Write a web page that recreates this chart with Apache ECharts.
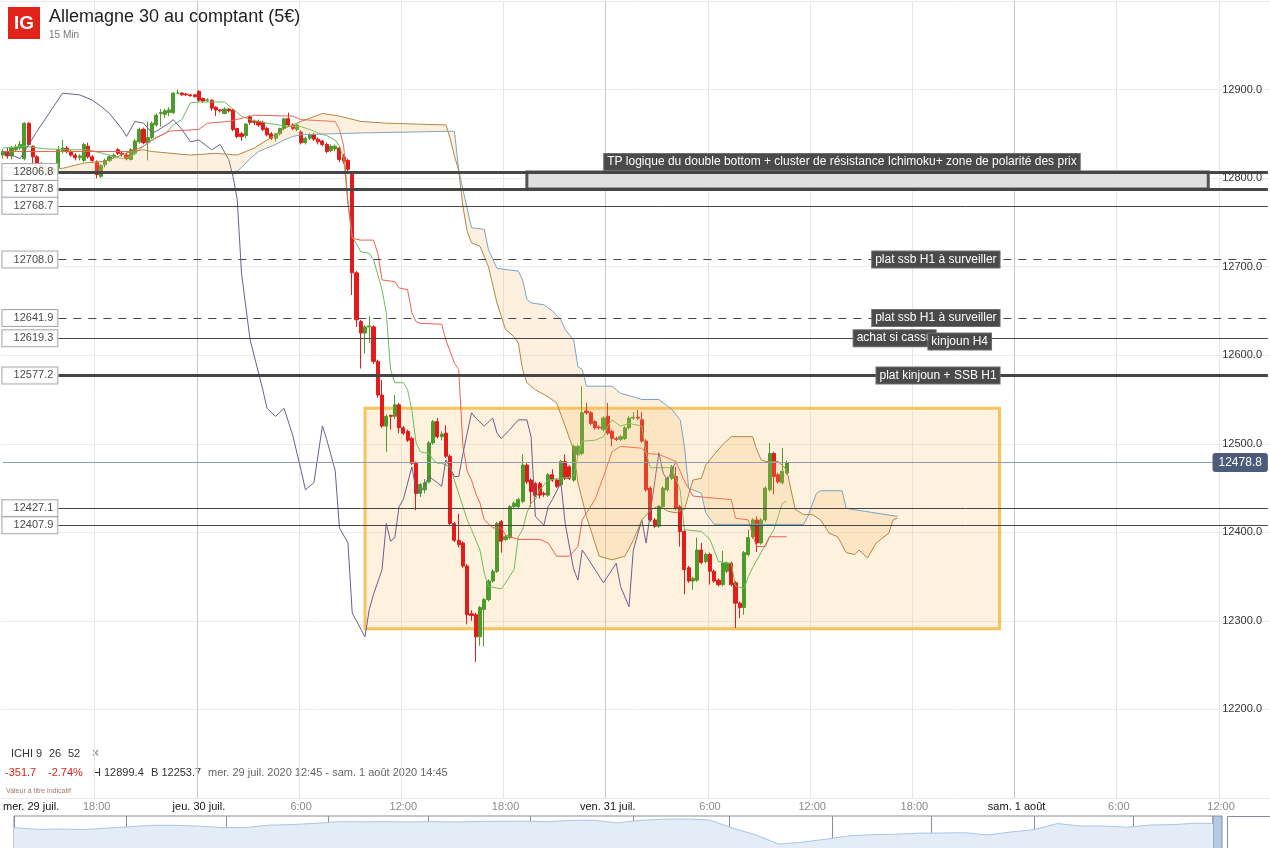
<!DOCTYPE html>
<html><head><meta charset="utf-8">
<script src="https://cdn.jsdelivr.net/npm/echarts@6.0.0/dist/echarts.min.js"></script>
<style>html,body{margin:0;padding:0;background:#fff}#chart{width:1270px;height:848px}</style>
</head><body><div id="chart"></div>
<script>
const FONT = '"Liberation Sans", Arial, sans-serif';

// ---- x categories: 15-min bars from 29 juil. 12:30 ----
const categories = [];
for (let k = 0; k < 298; k++) {
  const t = new Date(Date.UTC(2020, 6, 29, 12, 30) + k * 15 * 60000);
  categories.push(t.toISOString().slice(0, 16).replace('T', ' '));
}
const tickLabels = [
  ['2020-07-29 12:30', 'mer. 29 juil.', 'd'],
  ['2020-07-29 18:00', '18:00', 'h'],
  ['2020-07-30 00:00', 'jeu. 30 juil.', 'd'],
  ['2020-07-30 06:00', '6:00', 'h'],
  ['2020-07-30 12:00', '12:00', 'h'],
  ['2020-07-30 18:00', '18:00', 'h'],
  ['2020-07-31 00:00', 'ven. 31 juil.', 'd'],
  ['2020-07-31 06:00', '6:00', 'h'],
  ['2020-07-31 12:00', '12:00', 'h'],
  ['2020-07-31 18:00', '18:00', 'h'],
  ['2020-08-01 00:00', 'sam. 1 août', 'd'],
  ['2020-08-01 06:00', '6:00', 'h'],
  ['2020-08-01 12:00', '12:00', 'h']
];

// ---- candles [open, close, low, high] ----
const candles = [
[12826,12830,12822,12833],[12830,12825,12822,12834],[12825,12834,12821,12836],[12832,12835,12830,12838],[12834,12838,12832,12842],
[12822,12862,12820,12863],[12862,12838,12836,12863],[12836,12824,12817,12837],[12824,12815,12810,12826],[12815,12808,12804,12818],
[12808,12812,12803,12815],[12812,12806,12802,12814],[12806,12810,12803,12813],[12812,12832,12805,12836],[12830,12834,12828,12843],
[12834,12830,12828,12836],[12830,12826,12824,12832],[12826,12823,12820,12828],[12823,12825,12820,12827],[12820,12838,12818,12840],
[12836,12824,12822,12840],[12824,12820,12817,12826],[12818,12804,12800,12820],[12802,12814,12800,12816],[12815,12820,12812,12822],
[12820,12824,12818,12826],[12824,12826,12822,12828],[12832,12828,12826,12834],[12828,12827,12824,12830],[12826,12822,12820,12829],
[12821,12832,12820,12834],[12828,12842,12826,12844],[12841,12855,12839,12857],[12855,12840,12838,12857],[12840,12846,12820,12864],
[12846,12862,12844,12864],[12860,12871,12858,12873],[12873,12874,12858,12878],[12872,12876,12868,12878],[12874,12877,12870,12880],
[12874,12896,12872,12897],[12896,12896,12895,12900],[12896,12894,12893,12897],[12895,12894,12893,12896],[12894,12893,12892,12895],
[12894,12892,12891,12895],[12898,12888,12886,12899.4],[12890,12887,12885,12891],[12888,12888.5,12886,12890],[12888,12879,12876,12889],
[12880,12877,12870,12881],[12877,12876,12874,12878],[12873,12878,12872,12880],[12878,12876,12874,12879],[12877,12855,12853,12878],
[12856,12847,12845,12857],[12850,12847,12842,12852],[12848,12861,12845,12862],[12869,12863,12860,12871],[12864,12863,12860,12866],
[12864,12860,12858,12866],[12863,12855,12853,12865],[12856,12849,12847,12858],[12850,12845,12843,12852],[12845,12850,12841,12851],
[12850,12856,12848,12857],[12856,12867,12854,12868],[12867,12860,12858,12874],[12860,12856,12854,12862],[12855,12860,12853,12862],
[12852,12840,12838,12854],[12840,12845,12838,12847],[12845,12849,12843,12851],[12849,12844,12842,12851],[12844,12841,12838,12846],
[12842,12838,12836,12843],[12838,12830,12828,12840],[12831,12836,12829,12838],[12833,12836,12830,12838],[12834,12821,12818,12836],
[12824,12819,12816,12827],[12820,12810,12808,12822],[12804,12693,12668,12808],[12693,12640,12632,12695],[12638,12625,12585,12640],
[12625,12632,12602,12634],[12632,12633,12614,12644],[12632,12593,12590,12634],[12593,12555,12552,12595],[12555,12520,12518,12572],
[12520,12531,12491,12533],[12532,12531,12516,12533],[12531,12544,12528,12555],[12544,12518,12512,12546],[12518,12512,12510,12520],
[12514,12504,12502,12516],[12506,12478,12476,12508],[12478,12444,12425,12480],[12444,12454,12440,12456],[12448,12456,12444,12460],
[12457,12501,12455,12503],[12501,12525,12499,12527],[12525,12508,12506,12529],[12508,12511,12504,12514],[12512,12486,12484,12521],
[12486,12410,12408,12488],[12410,12391,12389,12412],[12391,12386,12383,12421],[12388,12362,12360,12390],[12362,12307,12296,12364],
[12308,12306,12300,12312],[12307,12282,12253.7,12309],[12282,12315,12272,12317],[12313,12324,12271,12326],[12324,12345,12322,12347],
[12345,12356,12343,12358],[12356,12410,12354,12412],[12412,12390,12377,12414],[12392,12395,12390,12397],[12394,12429,12392,12431],
[12429,12433,12427,12435],[12429,12437,12427,12439],[12435,12476,12433,12488],[12476,12457,12455,12478],[12459,12446,12429,12461],
[12455,12442,12440,12457],[12455,12442,12438,12457],[12444,12443,12440,12446],[12442,12465,12440,12467],[12465,12459,12457,12471],
[12459,12452,12450,12461],[12454,12480,12452,12482],[12480,12461,12459,12488],[12474,12461,12459,12476],[12459,12497,12457,12499],
[12488,12497,12486,12499],[12489,12535,12487,12565],[12537,12535,12533,12546],[12535,12523,12521,12537],[12525,12518,12516,12527],
[12519,12518,12516,12521],[12516,12529,12514,12531],[12531,12512,12510,12546],[12514,12506,12497,12516],[12506,12505,12503,12508],
[12505,12508,12503,12510],[12506,12518,12504,12520],[12518,12529,12516,12531],[12529,12530,12527,12536],[12530,12529,12527,12538],
[12527,12503,12501,12536],[12503,12448,12446,12505],[12450,12414,12412,12452],[12414,12407,12405,12416],[12407,12429,12405,12431],
[12429,12450,12427,12452],[12448,12461,12446,12463],[12461,12474,12459,12476],[12463,12427,12425,12474],[12429,12401,12384,12431],
[12401,12358,12330,12403],[12360,12345,12343,12362],[12345,12348,12335,12350],[12346,12380,12344,12394],[12380,12366,12364,12388],
[12367,12375,12365,12377],[12375,12356,12341,12377],[12356,12345,12343,12358],[12346,12341,12339,12348],[12341,12365,12339,12379],
[12356,12365,12354,12367],[12365,12341,12339,12367],[12343,12320,12292,12345],[12320,12315,12303,12322],[12315,12377,12307,12379],
[12375,12394,12373,12403],[12395,12414,12393,12416],[12414,12388,12378,12418],[12388,12414,12386,12416],[12414,12450,12412,12452],
[12448,12489,12446,12501],[12489,12463,12443,12491],[12465,12457,12455,12467],[12456,12469,12454,12495],[12467,12478.8,12465,12481]
];

// ---- Ichimoku lines [barIndex, value] ----
const tenkan = [[0,12834],[5,12836],[10,12833],[15,12832],[20,12832],[25,12826],[28,12822],[30,12824],[32,12832],[34,12840],[36,12846],[38,12850],[40,12860],[42,12866],[44,12885],[46,12886],[52,12886],[54,12878],[56,12870],[58,12866],[62,12862],[66,12859],[70,12858],[72,12855],[74,12851],[76,12848],[78,12843],[79,12836],[80,12822],[81,12772],[82,12734],[84,12717],[86,12715],[87,12708],[89,12674],[90,12648],[91,12584],[92,12569],[94,12569],[95,12561],[96,12538],[97,12501],[98,12491],[100,12489],[101,12482],[102,12478],[103,12478],[105,12474],[106,12459],[108,12429],[109,12414],[110,12403],[112,12380],[113,12354],[114,12339],[117,12336],[118,12343],[120,12358],[121,12395],[122,12403],[123,12422],[124,12433],[125,12437],[126,12448],[128,12459],[131,12461],[134,12463],[135,12486],[136,12503],[139,12504],[141,12508],[142,12520],[143,12527],[145,12520],[147,12523],[150,12520],[151,12490],[152,12473],[157,12473],[159,12448],[160,12403],[164,12401],[166,12392],[168,12367],[171,12365],[172,12339],[174,12337],[175,12350],[176,12360],[178,12377],[180,12395],[181,12403],[183,12433],[184,12435]];
const kijun = [[0,12830],[13,12830],[30,12830],[33,12836],[35,12843],[39,12853],[46,12855],[48,12862],[53,12864],[59,12871],[68,12870],[70,12866],[78,12864],[79,12855],[80,12836],[81,12772],[82,12732],[84,12730],[87,12730],[88,12715],[89,12685],[92,12683],[93,12676],[95,12674],[96,12648],[97,12638],[98,12636],[103,12635],[104,12617],[106,12591],[107,12584],[108,12497],[109,12469],[110,12459],[111,12444],[112,12433],[113,12414],[115,12405],[117,12405],[118,12397],[121,12392],[126,12392],[128,12388],[130,12373],[133,12373],[135,12384],[136,12414],[139,12437],[141,12463],[143,12491],[145,12497],[150,12495],[151,12489],[154,12488],[157,12482],[158,12480],[160,12458],[162,12441],[166,12439],[171,12437],[172,12416],[175,12414],[176,12397],[177,12384],[179,12384],[180,12395],[184,12395]];
const chikou = [[0,12830],[4,12822],[8,12853],[14,12896],[18,12894],[21,12888],[23,12881],[25,12873],[28,12855],[29,12847],[31,12864],[33,12862],[35,12851],[36,12853],[39,12862],[40,12866],[42,12855],[44,12841],[46,12843],[49,12832],[51,12838],[53,12821],[54,12802],[55,12776],[56,12693],[58,12618],[61,12561],[62,12540],[64,12531],[66,12540],[68,12510],[70,12470],[71,12448],[73,12456],[75,12520],[76,12505],[78,12470],[79,12405],[81,12388],[82,12309],[85,12282],[86,12313],[87,12330],[89,12358],[90,12410],[91,12390],[92,12394],[93,12429],[94,12437],[96,12474],[97,12448],[98,12444],[100,12463],[102,12456],[103,12452],[104,12482],[106,12463],[107,12463],[108,12489],[110,12535],[111,12529],[113,12520],[115,12529],[116,12512],[117,12506],[119,12516],[121,12527],[123,12527],[124,12508],[125,12418],[127,12408],[128,12429],[129,12437],[131,12456],[132,12410],[134,12358],[135,12346],[136,12380],[137,12373],[139,12358],[141,12343],[144,12365],[145,12339],[147,12316],[148,12380],[150,12414],[151,12388],[152,12422],[154,12490],[155,12467],[156,12459],[158,12480]];
const spanBlue = [[0,12806],[54,12806],[55,12808],[56,12812],[58,12822],[60,12830],[64,12838],[66,12843],[68,12847],[70,12849],[84,12851],[106,12853],[107,12809],[108,12787],[110,12744],[113,12742],[114,12719],[116,12698],[121,12695],[122,12685],[123,12663],[124,12659],[127,12657],[129,12650],[131,12640],[132,12629],[134,12617],[135,12587],[136,12584],[137,12565],[143,12565],[145,12557],[148,12553],[150,12550],[154,12550],[157,12539],[159,12527],[160,12497],[161,12450],[162,12448],[164,12444],[165,12422],[167,12409],[188,12409],[189,12418],[191,12444],[192,12447],[197,12447],[198,12427],[210,12418]];
const spanBrown = [[0,12812],[14,12811],[19,12817],[24,12819],[30,12830],[33,12832],[35,12830],[44,12826],[50,12828],[55,12826],[59,12834],[62,12843],[66,12856],[70,12864],[75,12873],[79,12870],[84,12864],[90,12862],[104,12860],[105,12845],[106,12825],[107,12809],[108,12768],[109,12740],[110,12727],[112,12723],[114,12700],[116,12659],[118,12629],[120,12621],[121,12614],[122,12584],[123,12569],[125,12561],[128,12553],[130,12546],[132,12520],[134,12493],[135,12456],[137,12418],[139,12388],[140,12373],[143,12369],[146,12373],[148,12391],[150,12414],[152,12425],[154,12430],[156,12424],[158,12422],[160,12426],[162,12459],[164,12461],[165,12476],[167,12488],[169,12499],[171,12508],[176,12508],[177,12493],[178,12482],[179,12480],[182,12480],[184,12471],[186,12426],[188,12420],[190,12420],[192,12414],[194,12399],[196,12395],[198,12377],[200,12375],[201,12380],[203,12371],[205,12388],[208,12399],[209,12414],[210,12416]];

// ---- drawn levels ----
const levels = [12806.8, 12787.8, 12768.7, 12708.0, 12641.9, 12619.3, 12577.2, 12427.1, 12407.9];
const levelKinds = ['thick', 'thick', 'thin', 'dash', 'dash', 'thin', 'thick', 'thin', 'thin'];
const levelStartBar = 13, levelEndBar = 297;
const lastPrice = 12478.8;
const lastPriceEndBar = 284;
const tpZone = { fromBar: 123, toBar: 283, low: 12787.8, high: 12806.8 };
const rangeBox = { fromBar: 85, toBar: 234, low: 12291, high: 12540 };
const annotations = [
  ['TP logique du double bottom + cluster de résistance Ichimoku+ zone de polarité des prix', 197, 12806.8, 'top'],
  ['plat ssb H1 à surveiller', 234, 12708.0, 'left'],
  ['plat ssb H1 à surveiller', 234, 12641.9, 'left'],
  ['achat si cassu', 219, 12619.3, 'left'],
  ['kinjoun H4', 232, 12615.5, 'left'],
  ['plat kinjoun + SSB H1', 234, 12577.2, 'left']
];

// ---- navigator (1 year, day offsets from 29/07/2019) ----
const navDays = [0,7,14,21,28,35,42,49,56,63,70,77,84,91,98,105,112,119,126,133,140,147,154,161,168,175,182,189,196,203,210,217,224,231,238,245,252,259,266,273,280,287,294,301,308,315,322,329,336,343,350,357,362];
const navValues = [12000,11650,11700,11600,11900,12190,12470,12470,12290,12010,12010,12510,12630,12890,13230,13200,13240,13160,13240,13170,13280,13320,13340,13220,13480,13530,12980,13510,13740,13790,13580,11890,10500,8600,9000,9600,10300,10550,10650,10850,10900,10950,10500,11100,11600,12850,12330,12330,12090,12530,12630,12920,12840];
const monthDays = [0,34,64,95,125,156,187,216,247,277,308,338];
const monthNames = ['2019','sept.','oct.','nov.','déc.','2020','févr.','mars','avr.','mai','juin','juil.'];

// ---------------------------------------------------------------
const tickMap = {};
tickLabels.forEach(t => { tickMap[t[0]] = t; });
const lineKindStyle = {
  thick: { color: '#464646', width: 3, type: 'solid' },
  thin: { color: '#464646', width: 1, type: 'solid' },
  dash: { color: '#464646', width: 1, type: [8, 7] }
};

const levelLines = levels.map((v, k) => [
  { coord: [levelStartBar, v], lineStyle: lineKindStyle[levelKinds[k]],
    label: { show: true, position: 'start', distance: 1, formatter: v.toFixed(1),
      color: '#4a4a4a', fontSize: 11, fontFamily: FONT, backgroundColor: 'rgba(255,255,255,0.88)',
      borderColor: '#a9a9b3', borderWidth: 1, padding: [3, 4, 2, 4], width: 47, align: 'right' } },
  { coord: [levelEndBar, v] }
]);
levelLines.push([
  { coord: [0, lastPrice], lineStyle: { color: '#8f9bb0', width: 1, type: 'solid' },
    label: { show: true, position: 'end', distance: 0, formatter: lastPrice.toFixed(1),
      color: '#fff', fontSize: 12, fontFamily: FONT, backgroundColor: '#4c5b79',
      borderRadius: 3, padding: [4, 6, 3, 6] } },
  { coord: [lastPriceEndBar, lastPrice] }
]);

const lineSeries = (name, data, color) => ({
  name, type: 'line', data, showSymbol: false, symbol: 'none', z: 3, silent: true,
  lineStyle: { color, width: 1 }, animation: false
});

const chart = echarts.init(document.getElementById('chart'), null, { renderer: 'canvas' });
chart.setOption({
  animation: false,
  textStyle: { fontFamily: FONT },
  grid: [
    { left: 0, right: 0, top: 1, bottom: 50 },
    { left: 14, right: 57, top: 816, bottom: 0, show: true, borderColor: '#8b8b9a', borderWidth: 1, backgroundColor: 'transparent' }
  ],
  xAxis: [
    { type: 'category', data: categories, boundaryGap: true, gridIndex: 0,
      axisLine: { show: false }, axisTick: { show: false },
      axisLabel: {
        interval: (i, v) => !!tickMap[v], margin: 3, alignMinLabel: 'left',
        formatter: v => { const t = tickMap[v]; return t ? '{' + t[2] + '|' + t[1] + '}' : ''; },
        rich: { d: { color: '#111', fontSize: 11, fontFamily: FONT }, h: { color: '#8a8a8a', fontSize: 11, fontFamily: FONT } }
      },
      splitLine: { show: true, interval: (i, v) => i > 0 && !!tickMap[v],
        lineStyle: { color: ['#e7e7e7', '#c8c8c8', '#e7e7e7', '#e7e7e7'], width: 1 } }
    },
    { type: 'value', gridIndex: 1, min: 0, max: 362,
      axisLine: { show: false }, axisTick: { show: false, customValues: monthDays },
      splitLine: { show: true, lineStyle: { color: '#8b8b9a', width: 1 } },
      axisLabel: { customValues: monthDays, inside: true, margin: 3, color: '#666', fontSize: 10, align: 'left', padding: [0, 0, 0, 3],
        formatter: v => { const k = monthDays.indexOf(v); return k >= 0 ? monthNames[k] : ''; } }
    }
  ],
  yAxis: [
    { type: 'value', position: 'right', gridIndex: 0, min: 12100, max: 13000, interval: 100,
      axisLine: { show: false }, axisTick: { show: false },
      axisLabel: { inside: true, margin: 8, color: '#333', fontSize: 11, showMinLabel: false, showMaxLabel: false,
        formatter: v => v.toFixed(1) },
      splitLine: { show: true, lineStyle: { color: '#ebebeb', width: 1 } }
    },
    { type: 'value', gridIndex: 1, min: 7800, max: 14400, show: false, splitLine: { show: false } }
  ],
  series: [
    { name: 'zones', type: 'line', data: [], z: 1, silent: true,
      markArea: { silent: true, data: [
        [ { coord: [rangeBox.fromBar, rangeBox.high], itemStyle: { color: 'rgba(250,200,120,0.25)', borderColor: '#f6c35e', borderWidth: 3 } },
          { coord: [rangeBox.toBar, rangeBox.low] } ]
      ] }
    },
    { name: 'Allemagne 30', type: 'candlestick', data: candles, z: 2, barWidth: 3.6, silent: true,
      itemStyle: { color: '#4c9b2c', color0: '#e31b1b', borderColor: '#4c9b2c', borderColor0: '#e31b1b', borderWidth: 1 } },
    lineSeries('Tenkan', tenkan, '#6cbd58'),
    lineSeries('Kijun', kijun, '#ee5f50'),
    lineSeries('Chikou', chikou, '#6d5d8c'),
    lineSeries('SSB', spanBlue, '#6aa0d8'),
    lineSeries('SSA', spanBrown, '#a8823f'),
    { name: 'Nuage', type: 'custom', data: spanBlue, z: 4, silent: true, clip: true,
      encode: { x: 0, y: 1 },
      renderItem: (params, api) => {
        if (params.dataIndex !== 0) return null;
        const pts = spanBlue.map(p => api.coord(p));
        for (let k = spanBrown.length - 1; k >= 0; k--) pts.push(api.coord(spanBrown[k]));
        return { type: 'polygon', shape: { points: pts }, style: { fill: 'rgba(245,188,105,0.22)' } };
      }
    },
    { name: 'niveaux', type: 'line', data: [], z: 5, silent: true,
      markArea: { silent: true, data: [
        [ { coord: [tpZone.fromBar, tpZone.high], itemStyle: { color: '#e0e0e0', borderColor: '#555', borderWidth: 3 } },
          { coord: [tpZone.toBar, tpZone.low] } ]
      ] },
      markLine: { silent: true, symbol: ['none', 'none'], animation: false, data: levelLines }
    },
    { name: 'notes', type: 'line', data: [], z: 6, silent: true,
      markPoint: { silent: true, symbol: 'rect', symbolSize: 0, animation: false,
        label: { show: true, color: '#fff', fontSize: 12, fontFamily: FONT, backgroundColor: '#4a4a4a',
          borderColor: '#6e6e6e', borderWidth: 1, padding: [2, 3, 2, 3] },
        data: annotations.map(a => ({ coord: [a[1], a[2]],
          label: { position: a[3], distance: a[3] === 'top' ? 2 : 0, formatter: a[0] } }))
      }
    },
    { name: 'navigateur', type: 'line', xAxisIndex: 1, yAxisIndex: 1, silent: true,
      data: navDays.map((d, k) => [d, navValues[k]]), showSymbol: false, symbol: 'none',
      lineStyle: { color: '#a9c5e8', width: 1 }, areaStyle: { color: '#e3ecf7', opacity: 1 } }
  ],
  graphic: [
    { type: 'rect', shape: { x: 8, y: 7, width: 32, height: 32 }, style: { fill: '#e2231a' } },
    { type: 'text', x: 24, y: 24, style: { text: 'IG', fill: '#fff', font: 'bold 19px ' + FONT, align: 'center', verticalAlign: 'middle', textAlign: 'center', textVerticalAlign: 'middle' } },
    { type: 'text', x: 49, y: 17, style: { text: 'Allemagne 30 au comptant (5€)', fill: '#222', font: '18px ' + FONT, verticalAlign: 'middle', textVerticalAlign: 'middle' } },
    { type: 'text', x: 49, y: 35, style: { text: '15 Min', fill: '#777', font: '10px ' + FONT, verticalAlign: 'middle', textVerticalAlign: 'middle' } },
    { type: 'text', x: 11, y: 754, style: { text: 'ICHI', fill: '#333', font: '11px ' + FONT, verticalAlign: 'middle', textVerticalAlign: 'middle' } },
    { type: 'text', x: 36, y: 754, style: { text: '9', fill: '#333', font: '11px ' + FONT, verticalAlign: 'middle', textVerticalAlign: 'middle' } },
    { type: 'text', x: 49, y: 754, style: { text: '26', fill: '#333', font: '11px ' + FONT, verticalAlign: 'middle', textVerticalAlign: 'middle' } },
    { type: 'text', x: 68, y: 754, style: { text: '52', fill: '#333', font: '11px ' + FONT, verticalAlign: 'middle', textVerticalAlign: 'middle' } },
    { type: 'text', x: 92, y: 754, style: { text: '×', fill: '#999', font: 'bold 12px ' + FONT, verticalAlign: 'middle', textVerticalAlign: 'middle' } },
    { type: 'text', x: 5, y: 773, style: { text: '-351.7', fill: '#e0201c', font: '11px ' + FONT, verticalAlign: 'middle', textVerticalAlign: 'middle' } },
    { type: 'text', x: 48, y: 773, style: { text: '-2.74%', fill: '#e0201c', font: '11px ' + FONT, verticalAlign: 'middle', textVerticalAlign: 'middle' } },
    { type: 'text', x: 93, y: 773, style: { text: 'H 12899.4', fill: '#333', font: '11px ' + FONT, verticalAlign: 'middle', textVerticalAlign: 'middle' } },
    { type: 'text', x: 151, y: 773, style: { text: 'B 12253.7', fill: '#333', font: '11px ' + FONT, verticalAlign: 'middle', textVerticalAlign: 'middle' } },
    { type: 'text', x: 208, y: 773, style: { text: 'mer. 29 juil. 2020 12:45 - sam. 1 août 2020 14:45', fill: '#666', font: '11px ' + FONT, verticalAlign: 'middle', textVerticalAlign: 'middle' } },
    { type: 'text', x: 6, y: 791, style: { text: 'Valeur à titre indicatif', fill: '#a07a6e', font: '7px ' + FONT, verticalAlign: 'middle', textVerticalAlign: 'middle' } },
    { type: 'rect', shape: { x: 1213, y: 816, width: 9, height: 40 }, style: { fill: '#b3c9e6', stroke: '#8b8b9a', lineWidth: 1 } },
    { type: 'rect', shape: { x: 1227.5, y: 816.5, width: 50, height: 40 }, style: { fill: '#fff', stroke: '#8b8b9a', lineWidth: 1 } }
  ]
});
</script></body></html>
